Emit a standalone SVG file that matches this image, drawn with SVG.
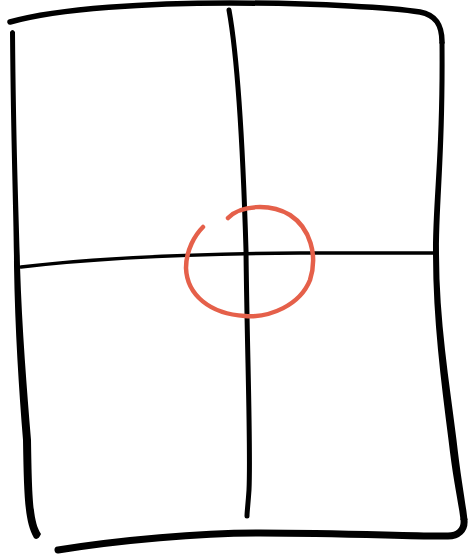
<svg xmlns="http://www.w3.org/2000/svg" width="468" height="556" viewBox="0 0 468 556">
<style>
.ink{fill:none;stroke:#000;stroke-linecap:round;stroke-linejoin:round}
.fillink{fill:#000;stroke:none}
.red{fill:none;stroke:#e5604a;stroke-linecap:round;stroke-width:4.5}
</style>
<rect width="468" height="556" fill="#fff"/>
<g id="frame">
<path class="ink" stroke-width="5.5" d="M10,22 C60,8 150,3 230,3 C320,3 395,8 420,12 C436,15 442,25 442,42"/>
<path class="fillink" d="M439.5,42 C440.5,150 433,200 433,253 C433,320 441,380 448.5,440 C453,480 459,505 460.5,520 L467.5,520 C466,505 461,480 456.5,440 C449,380 439,320 439,253 C439,200 445.5,150 444.5,42 Z"/>
<path class="ink" stroke-width="7" d="M464,520 C465,530 458,536 448,536 C420,537 350,533 260,533 C200,533 120,540 58,550"/>
<path class="fillink" d="M10,32 C11,150 14,220 14,266 C15,330 19,390 23,440 C24,500 25,522 34,538 Q38,541 41,534 C33,522 32,500 31,440 C27,390 22,330 20,266 C19,220 16,150 15,32 Q12.5,28 10,32 Z"/>
</g>
<g id="cross">
<path class="ink" stroke-width="5" d="M229,10 C238,60 243,150 246,250 C247,350 251,450 249,490 C248,505 247,512 247,516"/>
<path class="ink" stroke-width="3.5" d="M21,267 C80,260 180,254 300,253 L436,253"/>
</g>
<g id="circle">
<path class="red" d="M228,218 C240,205 270,203 290,215 C310,228 318,255 310,280 C300,305 270,318 245,316 C210,314 187,295 186,268 C186,250 195,235 203,227"/>
</g>
</svg>
